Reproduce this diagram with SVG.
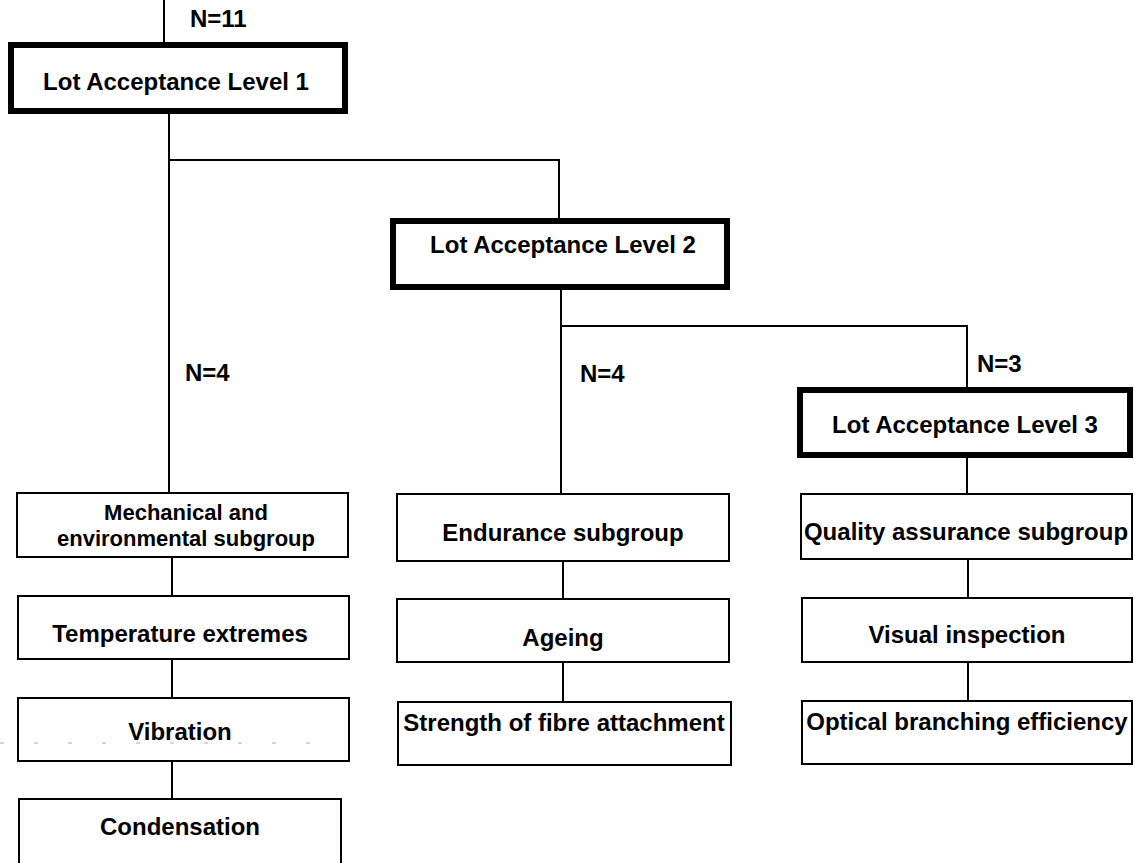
<svg xmlns="http://www.w3.org/2000/svg" width="1135" height="863" viewBox="0 0 1135 863">
  <style>
    .lvl { fill: #fff; stroke: #000; stroke-width: 6; }
    .box { fill: #fff; stroke: #000; stroke-width: 2; }
    .wire { fill: none; stroke: #000; stroke-width: 2; }
    text { font-family: "Liberation Sans", Arial, Helvetica, sans-serif; font-weight: bold; font-size: 24px; fill: #000; }
    .c { text-anchor: middle; }
    .sub { font-size: 22px; }
  </style>
  <rect width="1135" height="863" fill="#fff"/>

  <!-- connectors -->
  <g id="connectors" class="wire">
    <path d="M164 0 V45"/>
    <path d="M169 111 V493"/>
    <path d="M169 160 H559 V221"/>
    <path d="M561 287 V494"/>
    <path d="M561 326 H967 V390"/>
    <path d="M967 455 V494"/>
    <path d="M172 557 V596"/>
    <path d="M172 659 V698"/>
    <path d="M172 761 V799"/>
    <path d="M563 561 V599"/>
    <path d="M563 662 V702"/>
    <path d="M968 559 V598"/>
    <path d="M968 662 V701"/>
  </g>

  <!-- sample counts -->
  <g id="counts">
    <text x="190" y="27">N=11</text>
    <text x="185" y="381">N=4</text>
    <text x="580" y="382">N=4</text>
    <text x="977" y="372">N=3</text>
  </g>

  <!-- lot acceptance levels -->
  <g id="level1">
    <rect class="lvl" x="11" y="45" width="334" height="66"/>
    <text class="c" x="176" y="90">Lot Acceptance Level 1</text>
  </g>
  <g id="level2">
    <rect class="lvl" x="393" y="221" width="334" height="66"/>
    <text class="c" x="563" y="253">Lot Acceptance Level 2</text>
  </g>
  <g id="level3">
    <rect class="lvl" x="800" y="390" width="330" height="65"/>
    <text class="c" x="965" y="433">Lot Acceptance Level 3</text>
  </g>

  <!-- mechanical and environmental column -->
  <g id="mechanical">
    <rect class="box" x="17" y="493" width="331" height="64"/>
    <text class="c sub" x="186" y="520">Mechanical and</text>
    <text class="c sub" x="186" y="546">environmental subgroup</text>
  </g>
  <g id="temperature">
    <rect class="box" x="18" y="596" width="331" height="63"/>
    <text class="c" x="180" y="642">Temperature extremes</text>
  </g>
  <g id="vibration">
    <rect class="box" x="18" y="698" width="331" height="63"/>
    <text class="c" x="180" y="740">Vibration</text>
  </g>
  <g id="condensation">
    <rect class="box" x="19" y="799" width="322" height="80"/>
    <text class="c" x="180" y="835">Condensation</text>
  </g>

  <!-- faint scan mark across the Vibration row -->
  <path d="M0 743 H320" fill="none" stroke="#aaa" stroke-width="1" stroke-dasharray="4 30"/>

  <!-- endurance column -->
  <g id="endurance">
    <rect class="box" x="397" y="494" width="332" height="67"/>
    <text class="c" x="563" y="541">Endurance subgroup</text>
  </g>
  <g id="ageing">
    <rect class="box" x="397" y="599" width="332" height="63"/>
    <text class="c" x="563" y="646">Ageing</text>
  </g>
  <g id="strength">
    <rect class="box" x="398" y="702" width="333" height="63"/>
    <text class="c" x="564" y="731">Strength of fibre attachment</text>
  </g>

  <!-- quality assurance column -->
  <g id="quality">
    <rect class="box" x="801" y="494" width="331" height="65"/>
    <text class="c" x="966" y="540">Quality assurance subgroup</text>
  </g>
  <g id="visual">
    <rect class="box" x="802" y="598" width="330" height="64"/>
    <text class="c" x="967" y="643">Visual inspection</text>
  </g>
  <g id="optical">
    <rect class="box" x="802" y="701" width="330" height="63"/>
    <text class="c" x="967" y="730">Optical branching efficiency</text>
  </g>
</svg>
